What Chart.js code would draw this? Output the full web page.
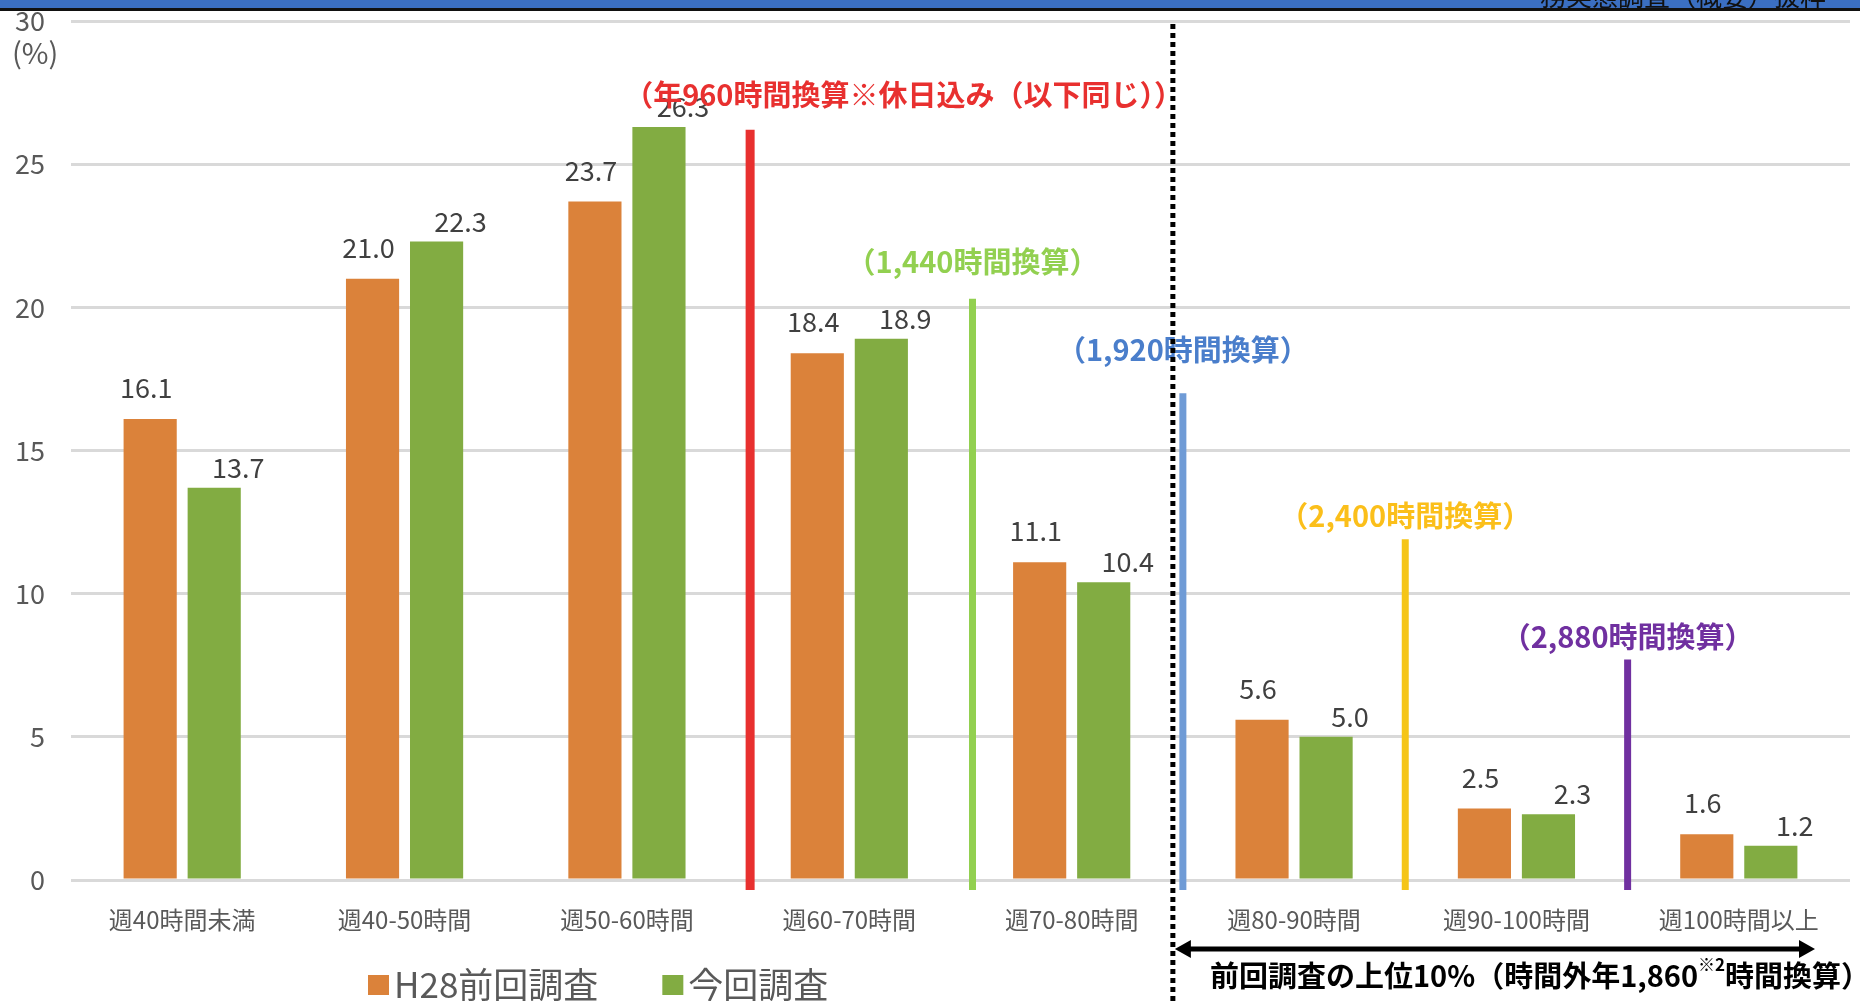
<!DOCTYPE html>
<html>
<head>
<meta charset="utf-8">
<script src="https://cdn.jsdelivr.net/npm/chart.js@4.4.0/dist/chart.umd.min.js"></script>
<style>
html, body { margin: 0; padding: 0; background: #fff; }
canvas { display: block; }
</style>
</head>
<body>
<canvas id="myChart" width="1860" height="1001"></canvas>
<script>
// データ
const categories = ["週40時間未満", "週40-50時間", "週50-60時間", "週60-70時間", "週70-80時間", "週80-90時間", "週90-100時間", "週100時間以上"];
const seriesNames = ["H28前回調査", "今回調査"];
const prevValues = [16.1, 21.0, 23.7, 18.4, 11.1, 5.6, 2.5, 1.6];
const currValues = [13.7, 22.3, 26.3, 18.9, 10.4, 5.0, 2.3, 1.2];
const yTicks = [0, 5, 10, 15, 20, 25, 30];

// 時間換算の区切り線（カテゴリ境界の後ろ、線の上端の値）
const markerAfter = [2, 3, 4, 5, 6];
const markerTops = [26.2, 20.3, 17.0, 11.9, 7.7];
const markerTextAt = [27.5, 21.6, 18.5, 12.7, 8.5];
const markerTexts = ["（年960時間換算※休日込み（以下同じ））", "（1,440時間換算）", "（1,920時間換算）", "（2,400時間換算）", "（2,880時間換算）"];

const barColors = ["#db823a", "#82ac42"];
const markerColors = ["#e8302f", "#92d050", "#6f9bd6", "#f5c518", "#7030a0"];
const markerTextColors = ["#e8302f", "#92d050", "#4a7ecb", "#fbbf1a", "#7030a0"];

const JP = '"Noto Sans CJK JP", "Noto Sans", sans-serif';

function boundaryX(xs, i) {
  return (xs.getPixelForValue(i) + xs.getPixelForValue(i + 1)) / 2;
}

const deco = {
  id: "deco",
  afterDatasetsDraw(chart) {
    const ctx = chart.ctx;
    const xs = chart.scales.x, ys = chart.scales.y;
    const y0 = ys.getPixelForValue(0);
    ctx.save();

    // 上部の帯
    ctx.fillStyle = "#3b6fc2";
    ctx.fillRect(0, 0, chart.width, 8);
    ctx.fillStyle = "#111";
    ctx.fillRect(0, 8, chart.width, 3);
    ctx.save();
    ctx.beginPath();
    ctx.rect(0, 0, chart.width, 8);
    ctx.clip();
    ctx.font = "26px " + JP;
    ctx.textAlign = "right";
    ctx.textBaseline = "bottom";
    ctx.fillText("務実態調査（概要）抜粋", 1826, 9);
    ctx.restore();

    // (%)
    ctx.fillStyle = "#595959";
    ctx.font = "29px " + JP;
    ctx.textAlign = "left";
    ctx.textBaseline = "middle";
    ctx.fillText("(%)", 12, 53);

    // 数値ラベル
    ctx.font = "27px " + JP;
    ctx.fillStyle = "#404040";
    ctx.textAlign = "center";
    const offs = [[-4, -31], [24, -20]];
    chart.data.datasets.forEach((ds, di) => {
      chart.getDatasetMeta(di).data.forEach((bar, j) => {
        ctx.fillText(ds.data[j].toFixed(1), bar.x + offs[di][0], bar.y + offs[di][1]);
      });
    });

    // 区切り線とラベル
    markerAfter.forEach((idx, k) => {
      const x = boundaryX(xs, idx) + (k < 2 ? 12 : 0);
      ctx.strokeStyle = markerColors[k];
      ctx.lineWidth = k === 0 ? 9 : 7;
      ctx.beginPath();
      ctx.moveTo(x, ys.getPixelForValue(markerTops[k]));
      ctx.lineTo(x, y0 + 10);
      ctx.stroke();

      ctx.fillStyle = markerTextColors[k];
      ctx.font = "bold 29px " + JP;
      ctx.textBaseline = "middle";
      if (k === 0) {
        ctx.textAlign = "left";
        ctx.fillText(markerTexts[k], x - 126, ys.getPixelForValue(markerTextAt[k]) + 2);
      } else {
        ctx.textAlign = "center";
        ctx.fillText(markerTexts[k], x, ys.getPixelForValue(markerTextAt[k]));
      }
    });

    // 点線
    const dx = boundaryX(xs, 4) - 10;
    ctx.strokeStyle = "#000";
    ctx.lineWidth = 5;
    ctx.setLineDash([5, 4]);
    ctx.beginPath();
    ctx.moveTo(dx, 24);
    ctx.lineTo(dx, chart.height);
    ctx.stroke();
    ctx.setLineDash([]);

    // 両矢印
    const ay = 949, ax1 = dx + 2, ax2 = 1815;
    ctx.lineWidth = 5;
    ctx.beginPath();
    ctx.moveTo(ax1 + 12, ay);
    ctx.lineTo(ax2 - 12, ay);
    ctx.stroke();
    ctx.fillStyle = "#000";
    ctx.beginPath();
    ctx.moveTo(ax1, ay); ctx.lineTo(ax1 + 16, ay - 9); ctx.lineTo(ax1 + 16, ay + 9); ctx.closePath();
    ctx.moveTo(ax2, ay); ctx.lineTo(ax2 - 16, ay - 9); ctx.lineTo(ax2 - 16, ay + 9); ctx.closePath();
    ctx.fill();

    // 下部テキスト
    ctx.textAlign = "left";
    ctx.textBaseline = "middle";
    ctx.font = "bold 29px " + JP;
    let tx = 1210;
    const t1 = "前回調査の上位10%（時間外年1,860";
    ctx.fillText(t1, tx, 976);
    tx += ctx.measureText(t1).width;
    ctx.font = "bold 17px " + JP;
    ctx.fillText("※2", tx, 965);
    tx += ctx.measureText("※2").width;
    ctx.font = "bold 29px " + JP;
    ctx.fillText("時間換算）", tx, 976);

    // 凡例
    ctx.font = "35px " + JP;
    let lx = 368;
    chart.data.datasets.forEach((ds, di) => {
      ctx.fillStyle = ds.backgroundColor;
      ctx.fillRect(lx, 975, 21, 20);
      ctx.fillStyle = "#595959";
      ctx.fillText(ds.label, lx + 26, 985);
      lx += 26 + ctx.measureText(ds.label).width + 64;
    });

    ctx.restore();
  }
};

new Chart("myChart", {
  type: "bar",
  data: {
    labels: categories,
    datasets: [
      { label: seriesNames[0], data: prevValues, backgroundColor: barColors[0] },
      { label: seriesNames[1], data: currValues, backgroundColor: barColors[1] }
    ]
  },
  options: {
    responsive: false,
    animation: false,
    devicePixelRatio: 1,
    categoryPercentage: 0.576,
    barPercentage: 0.83,
    layout: { padding: { left: 0, top: 21, right: 10, bottom: 0 } },
    plugins: {
      legend: { display: false },
      tooltip: { enabled: false }
    },
    scales: {
      x: {
        grid: { display: false, drawTicks: false },
        border: { display: false },
        ticks: { color: "#595959", font: { family: JP, size: 24 }, padding: 25, maxRotation: 0 },
        afterFit(s) { s.height = 121; }
      },
      y: {
        min: 0,
        max: 30,
        afterBuildTicks(s) { s.ticks = yTicks.map(v => ({ value: v })); },
        grid: { color: "#d9d9d9", lineWidth: 3, drawTicks: false },
        border: { display: false },
        ticks: { color: "#595959", font: { family: JP, size: 27 }, padding: 26 },
        afterFit(s) { s.width = 71; s.paddingTop = 0; s.paddingBottom = 0; }
      }
    }
  },
  plugins: [deco]
});
</script>
</body>
</html>
